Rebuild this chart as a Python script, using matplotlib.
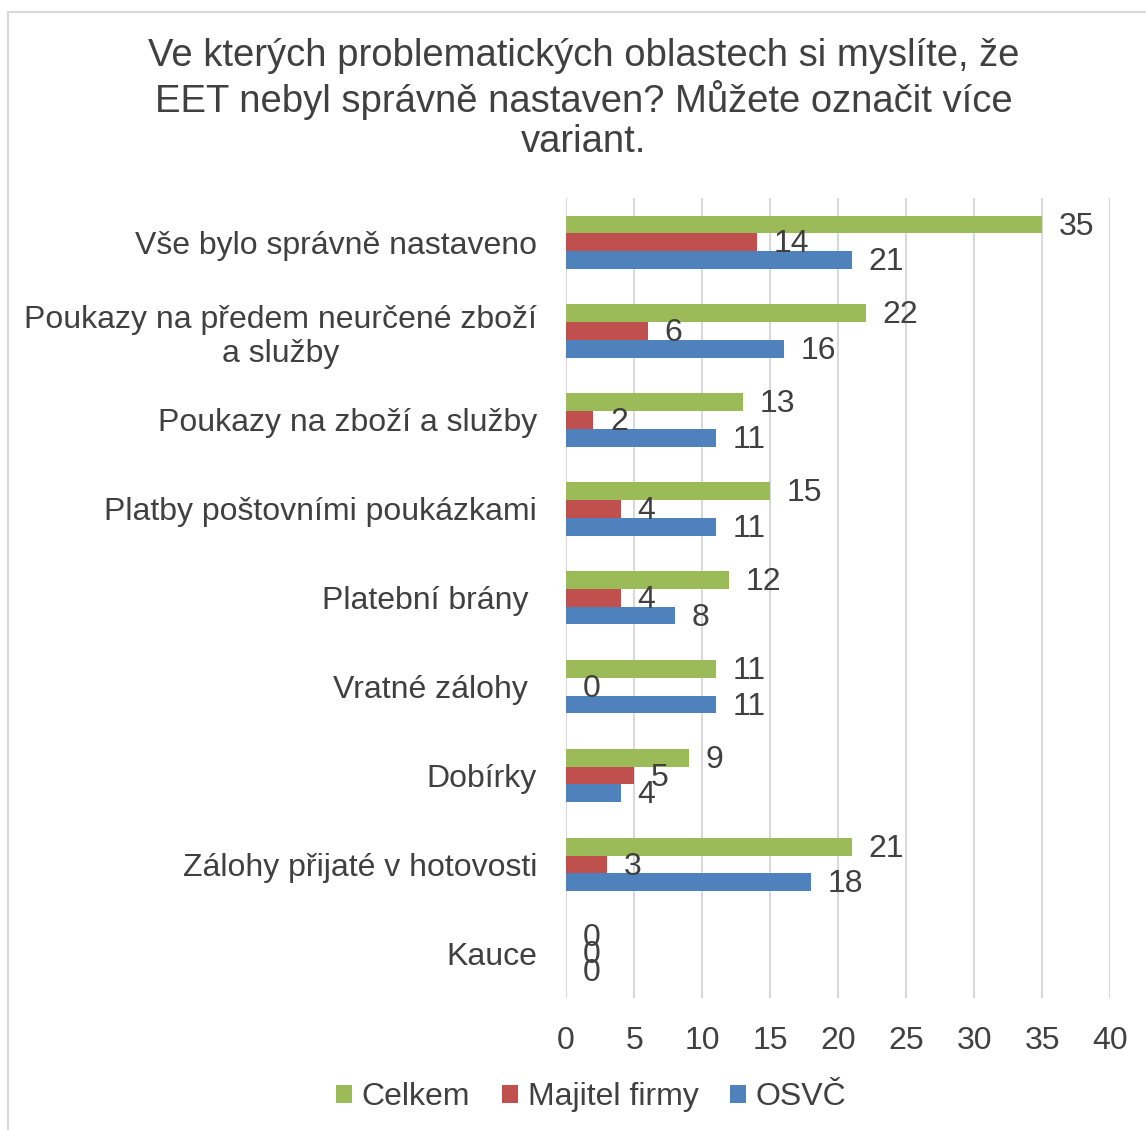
import matplotlib.pyplot as plt
import numpy as np
from matplotlib.patches import Rectangle

categories = [
    "Vše bylo správně nastaveno",
    "Poukazy na předem neurčené zboží\na služby",
    "Poukazy na zboží a služby",
    "Platby poštovními poukázkami",
    "Platební brány ",
    "Vratné zálohy ",
    "Dobírky",
    "Zálohy přijaté v hotovosti",
    "Kauce",
]
celkem = [35, 22, 13, 15, 12, 11, 9, 21, 0]
majitel = [14, 6, 2, 4, 4, 0, 5, 3, 0]
osvc = [21, 16, 11, 11, 8, 11, 4, 18, 0]
series_names = ["Celkem", "Majitel firmy", "OSVČ"]
colors = ["#9BBB59", "#C0504D", "#4F81BD"]
title = "Ve kterých problematických oblastech si myslíte, že\nEET nebyl správně nastaven? Můžete označit více\nvariant."

text_color = "#404040"
fs = 23
plt.rcParams["font.family"] = ["Liberation Sans", "DejaVu Sans"]

fig = plt.figure(figsize=(11.46, 11.30), dpi=100)
ax = fig.add_axes([0.494, 0.117, 0.475, 0.708])

# chart border
fig.patches.append(Rectangle((0.007, -0.01), 1.0, 0.999, transform=fig.transFigure,
                             fill=False, edgecolor="#D9D9D9", linewidth=1.5))

y = np.arange(len(categories))
h = 0.2
for i, (vals, name, col) in enumerate(zip([celkem, majitel, osvc], series_names, colors)):
    pos = y + (i - 1) * h
    bars = ax.barh(pos, vals, height=h, color=col, label=name, zorder=3)
    for b, v in zip(bars, vals):
        ax.annotate(str(v), (v, b.get_y() + b.get_height() / 2), xytext=(12, -1.5),
                    textcoords="offset points", va="center", ha="left",
                    fontsize=fs, color=text_color, zorder=4)

ax.set_ylim(len(categories) - 0.5, -0.5)
ax.set_xlim(0, 40)
ax.set_xticks(np.arange(0, 41, 5))
ax.set_yticks(y)
ax.set_yticklabels(categories, multialignment="center")
ax.tick_params(axis="both", length=0, labelsize=fs, labelcolor=text_color)
ax.tick_params(axis="y", pad=21)
ax.tick_params(axis="x", pad=20)
ax.grid(axis="x", color="#D9D9D9", linewidth=1.5, zorder=0)
for s in ax.spines.values():
    s.set_visible(False)

fig.text(0.509, 0.966, title, ha="center", va="top", fontsize=27.5, color=text_color,
         linespacing=1.16)

handles, labels = ax.get_legend_handles_labels()
fig.legend(handles, labels, loc="center", bbox_to_anchor=(0.516, 0.029), ncol=3,
           frameon=False, fontsize=fs, labelcolor=text_color, handlelength=0.5,
           handleheight=0.5, handletextpad=0.3, columnspacing=1.0)

fig.savefig("out.png", dpi=100, facecolor="white")
